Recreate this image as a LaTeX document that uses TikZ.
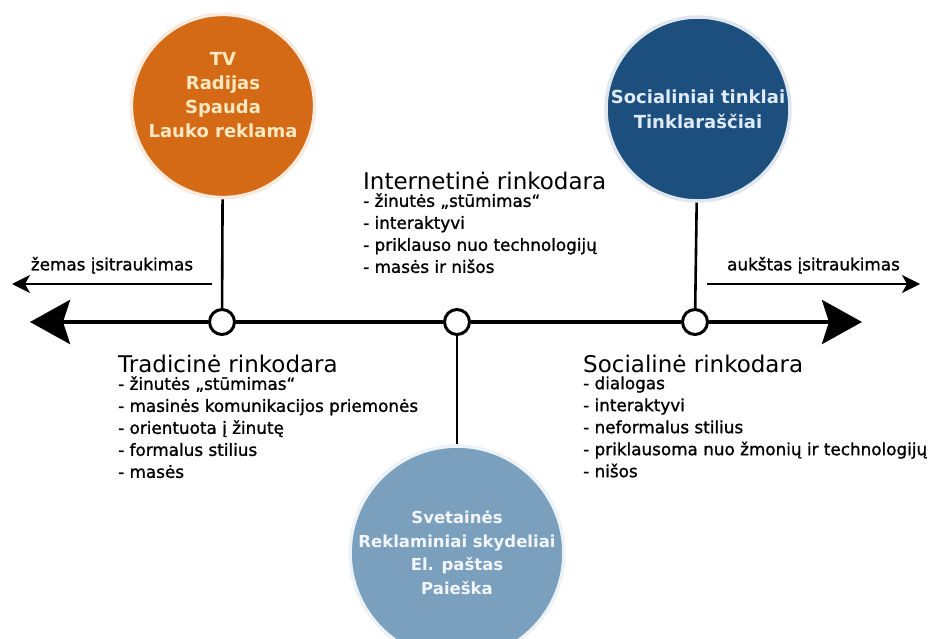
\documentclass[tikz,border=0pt]{standalone}
\usepackage{fontspec}
\setmainfont{DejaVu Sans}
\newfontfamily\listfont[FakeBold=1.2]{DejaVu Sans}
\usetikzlibrary{arrows.meta}
\definecolor{tradorange}{RGB}{212,106,22}
\definecolor{tradtext}{RGB}{250,232,192}
\definecolor{socblue}{RGB}{28,78,126}
\definecolor{soctext}{RGB}{222,234,246}
\definecolor{netblue}{RGB}{122,160,190}
\definecolor{nettext}{RGB}{242,246,250}

\begin{document}
\begin{tikzpicture}[x=1pt,y=-1pt,every node/.style={font=\fontsize{16.8}{22}\selectfont\listfont},
  channel/.style={circle,inner sep=0pt,align=center,font=\fontsize{16.5}{23.5}\selectfont\bfseries},
  halo/.style={draw=#1!14,line width=3.5pt},
  knot/.style={circle,draw=black,line width=3pt,fill=white,minimum size=25pt,inner sep=0pt},
  axis/.style={line width=4.5pt},
  stem/.style={line width=2.6pt},
  involve/.style={line width=2.2pt,-{Stealth[length=18pt,width=18pt,inset=5pt]}},
  heading/.style={anchor=north west,inner sep=0pt,font=\fontsize{23}{26}\selectfont},
  points/.style={anchor=north west,inner sep=0pt,align=left}]
\useasboundingbox (0,0) rectangle (929,639);
% channel circles
\node[channel,minimum size=180pt,fill=tradorange,text=tradtext,halo=tradorange,
  font=\fontsize{18}{24}\selectfont\bfseries,text depth=22pt] (trad) at (223,106) {TV\\Radijas\\Spauda\\Lauko reklama};
\node[channel,minimum size=184pt,fill=socblue,text=soctext,halo=socblue,
  font=\fontsize{18}{25}\selectfont\bfseries] (soc) at (698,109) {Socialiniai tinklai\\Tinklaraščiai};
\node[channel,minimum size=196pt,fill=netblue,text=nettext,halo=netblue] (net) at (457,553) {Svetainės\\Reklaminiai skydeliai\\El. paštas\\Paieška};
% knots on the axis
\node[knot] (tknot) at (222,322) {};
\node[knot] (nknot) at (457,322) {};
\node[knot] (sknot) at (695,322) {};
\coordinate (axleft) at (30,322);
\coordinate (axright) at (862,322);
\draw[axis,-{Stealth[length=40pt,width=44pt,inset=7pt]}] (tknot) -- (axleft);
\draw[axis] (tknot) -- (nknot);
\draw[axis] (nknot) -- (sknot);
\draw[axis,-{Stealth[length=40pt,width=44pt,inset=7pt]}] (sknot) -- (axright);
\draw[stem] (trad) -- (tknot);
\draw[stem] (soc) -- (sknot);
\draw[stem] (nknot) -- (net);
% involvement arrows
\coordinate (lowstart) at (212,284);
\coordinate (lowend) at (12,284);
\coordinate (highstart) at (707,284);
\coordinate (highend) at (920,284);
\draw[involve] (lowstart) -- (lowend) node[midway,above=6pt] (lowlabel) {žemas įsitraukimas};
\draw[involve] (highstart) -- (highend) node[midway,above=6pt] (highlabel) {aukštas įsitraukimas};
% descriptions
\node[heading] (nethead) at (363,172) {Internetinė rinkodara};
\node[points] (netlist) at ([yshift=-3pt]nethead.south west) {- žinutės „stūmimas“\\- interaktyvi\\- priklauso nuo technologijų\\- masės ir nišos};
\node[heading] (tradhead) at (118,355) {Tradicinė rinkodara};
\node[points] (tradlist) at ([yshift=-3pt]tradhead.south west) {- žinutės „stūmimas“\\- masinės komunikacijos priemonės\\- orientuota į žinutę\\- formalus stilius\\- masės};
\node[heading] (sochead) at (583,355) {Socialinė rinkodara};
\node[points] (soclist) at ([yshift=-3pt]sochead.south west) {- dialogas\\- interaktyvi\\- neformalus stilius\\- priklausoma nuo žmonių ir technologijų\\- nišos};
\end{tikzpicture}
\end{document}
